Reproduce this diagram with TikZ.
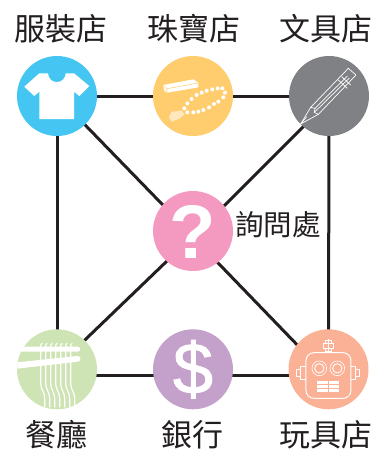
\documentclass[tikz,border=0pt]{standalone}
\usepackage{fontspec}
\usetikzlibrary{calc}
\setmainfont{Liberation Sans}
\newfontfamily\cjk{Noto Sans CJK TC}
\newfontfamily\dolfont{Liberation Sans}[FakeBold=1.2]
\definecolor{cblue}{HTML}{45C6F2}
\definecolor{cyellow}{HTML}{FFCC6E}
\definecolor{cgray}{HTML}{808184}
\definecolor{cpink}{HTML}{F49AC1}
\definecolor{cgreen}{HTML}{CFE4B4}
\definecolor{cpurple}{HTML}{C4A1CA}
\definecolor{csalmon}{HTML}{FBB196}
\definecolor{cline}{HTML}{231F20}
\pgfdeclarelayer{bg}\pgfsetlayers{bg,main}
\tikzset{
 hub/.style={circle,minimum size=80pt,inner sep=0pt,draw=none},
 link/.style={draw=cline,line width=3pt},
 lab/.style={font=\cjk\fontsize{31}{31}\selectfont,text=cline,inner sep=0pt},
 ico/.style={draw=white,line width=1pt,fill=none},
 zoomed/.style={shift={(#1)},x=.3333pt,y=-.3333pt},
}
\begin{document}
\begin{tikzpicture}[x=1pt,y=-1pt]
\useasboundingbox (0,0) rectangle (384,451);
\node[hub,fill=cblue] (shirt) at (57,96) {};
\node[hub,fill=cyellow] (jewel) at (193,96) {};
\node[hub,fill=cgray] (pencil) at (329,96) {};
\node[hub,fill=cpink] (info) at (193,231) {};
\node[hub,fill=cgreen] (food) at (57,369.3) {};
\node[hub,fill=cpurple] (bank) at (193,369.3) {};
\node[hub,fill=csalmon] (toy) at (328.5,369.3) {};
\begin{pgfonlayer}{bg}
\draw[link] (shirt.center)--(jewel.center);
\draw[link] (jewel.center)--(pencil.center);
\draw[link] (shirt.center)--(food.center);
\draw[link] (pencil.center)--(toy.center);
\draw[link] ($(food.center)+(0,6.5)$)--($(bank.center)+(0,6.5)$);
\draw[link] ($(bank.center)+(0,6.5)$)--($(toy.center)+(0,6.5)$);
\draw[link] (shirt.center)--($(info.center)+(0,5)$);
\draw[link] ($(pencil.center)+(0,5)$)--($(info.center)+(0,6)$);
\draw[link] ($(food.center)+(0,-2.5)$)--($(info.center)+(0,5)$);
\draw[link] ($(toy.center)+(0,8)$)--($(info.center)+(0,6)$);
\end{pgfonlayer}
\node[lab] (l1) at (61,28.5) {服裝店};
\node[lab] (l2) at (194,28.5) {珠寶店};
\node[lab] (l3) at (326,28.5) {文具店};
\node[lab,font=\cjk\fontsize{28.5}{28.5}\selectfont] (l4) at (278,225) {詢問處};
\node[lab] (l5) at (57,434.5) {餐廳};
\node[lab] (l6) at (192.5,434.5) {銀行};
\node[lab] (l7) at (326,434.5) {玩具店};
\node[text=white,font=\bfseries\fontsize{76}{76}\selectfont,inner sep=0pt] (q) at (193,231.5) {?};
\node[text=white,font=\dolfont\fontsize{72}{72}\selectfont,inner sep=0pt] (d) at (193,369.3) {\$};
% shirt
\fill[white] (39.3,73.3)--(24.3,86.7)--(34.3,96)--(39.3,91.7)--(39.3,119)--(74,119)--(74,91.7)--(79.3,96)--(89.3,86)--(74,73.3)--(65.7,73.3) arc[start angle=0,end angle=180,radius=8.8] --cycle;
% jewel
\begin{scope}[zoomed={150,70}]
\fill[white] (40,45)--(130,28)--(145,38)--(52,55)--cycle;
\fill[white] (52,57)--(145,40)--(145,52)--(52,68)--cycle;
\fill[white] (40,47)--(50,56)--(50,68)--(42,60)--cycle;
\foreach \x/\y in {112/100,125/87,140/75,155/68,170/62,187/58,203/55,217/55,225/68,220/82,205/95,192/102,177/112,160/120,145/125,130/127,112/127,103/115}
 \fill[white] (\x,\y) circle[radius=6];
\fill[white,opacity=.55] (65,125)--(95,122)--(103,133)--(90,145)--(65,155)--(57,142)--cycle;
\end{scope}
% pencil
\begin{scope}[zoomed={270,50},draw=white,line width=.7pt]
\draw (92,222)--(122,172)--(235,55)--(258,75)--(145,193)--cycle;
\draw (122,172)--(135,175)--(133,187)--(145,193);
\draw (92,222)--(110,200);
\draw (135,175)--(232,78);
\draw (133,187)--(238,84);
\draw (205,90)--(232,115);
\draw (215,80)--(242,105);
\end{scope}
% food
\begin{scope}[zoomed={0,320}]
\foreach \x in {122,137,152,167,182,197,212}{
 \draw[white,line width=1.2pt] (\x+5,70) .. controls (\x+1,71) and (\x,74) .. (\x,80) -- (\x,190) .. controls (\x,210) and (\x+12,215) .. (\x+12,235) -- (\x+12,262);
}
\fill[white] (62,80)--(233,80) arc[start angle=-90,end angle=90,radius=7.5]--(55,95)--cycle;
\fill[white] (52,127)--(233,108) arc[start angle=-90,end angle=90,radius=8.5]--(52,146)--cycle;
\end{scope}
% robot
\begin{scope}[zoomed={270,320}]
\draw[ico,rounded corners=8pt] (108,98) rectangle (243,235);
\draw[ico] (175,58)--(175,95) (160,70)--(190,70)--(190,85)--(160,85)--cycle;
\draw[ico,line width=.8pt] (167,60)--(183,60)--(183,70) (167,60)--(167,70) (167,85)--(167,95)--(183,95)--(183,85);
\draw[ico] (108,140)--(92,140)--(92,178)--(108,178) (92,148)--(80,148)--(80,170)--(92,170);
\draw[ico] (243,140)--(258,140)--(258,178)--(243,178) (258,148)--(270,148)--(270,170)--(258,170);
\foreach \x in {148,202}{
 \draw[ico,line width=.6pt] (\x,145) circle[radius=22];
 \draw[ico,line width=.9pt] (\x,145) circle[radius=14];
}
\fill[white] (140,183) rectangle (208,215);
\draw[csalmon,line width=.6pt] (140,193)--(208,193) (140,204)--(208,204) (174,183)--(174,215);
\end{scope}
\end{tikzpicture}
\end{document}
